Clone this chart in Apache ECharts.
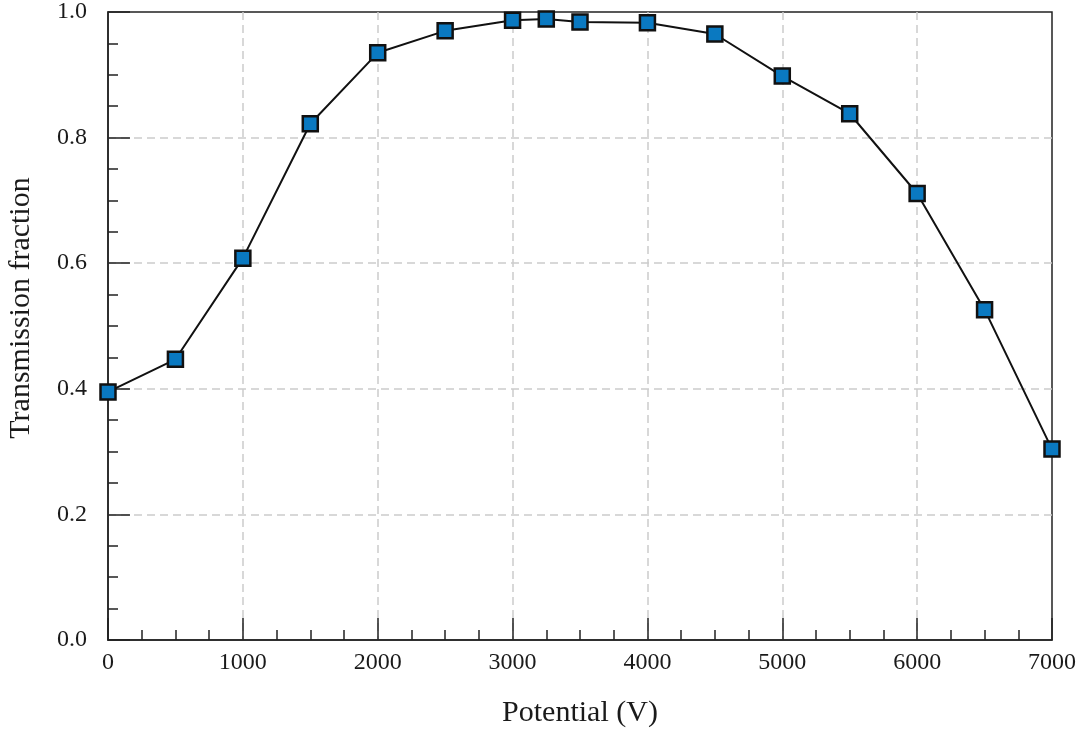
<!DOCTYPE html>
<html>
<head>
<meta charset="utf-8">
<script src="https://cdn.jsdelivr.net/npm/echarts@6/dist/echarts.min.js"></script>
<style>
  html, body { margin: 0; padding: 0; background: #fff; }
  #chart { width: 1083px; height: 729px; }
</style>
</head>
<body>
<div id="chart"></div>
<script>
// potential in volts, transmission fraction
const potentials = [0, 500, 1000, 1500, 2000, 2500, 3000, 3250, 3500, 4000, 4500, 5000, 5500, 6000, 6500, 7000]
const transmission = [0.395, 0.447, 0.608, 0.822, 0.935, 0.970, 0.987, 0.989, 0.984, 0.983, 0.965, 0.898, 0.838, 0.711, 0.526, 0.304]

const points = potentials.map((v, i) => [v, transmission[i]])

const chart = echarts.init(document.getElementById('chart'), null, { renderer: 'canvas' })

const serif = '"Liberation Serif", "DejaVu Serif", serif'

const option = {
    animation: false,
    backgroundColor: '#fff',
    grid: {
        left: 108, right: 31, top: 12, bottom: 89,
        outerBoundsMode: 'none',
        show: true, borderColor: '#222', borderWidth: 1.5
    },
    xAxis: {
        type: 'value',
        min: 0, max: 7000, interval: 1000,
        name: 'Potential (V)',
        nameLocation: 'middle',
        nameGap: 58,
        nameTextStyle: { fontFamily: serif, fontSize: 30, color: '#1a1a1a' },
        axisLine: { show: true, lineStyle: { color: '#222', width: 1.5 } },
        axisTick: { show: true, inside: true, length: 22, lineStyle: { color: '#222', width: 1.5 } },
        minorTick: { show: true, splitNumber: 4, length: 10, lineStyle: { color: '#222', width: 1.5 } },
        axisLabel: { fontFamily: serif, fontSize: 24, color: '#1a1a1a', margin: 11, formatter: v => String(v) },
        splitLine: {
            show: true, showMinLine: false, showMaxLine: false,
            lineStyle: { color: '#ccc', type: [8, 5], width: 1.5 }
        }
    },
    yAxis: {
        type: 'value',
        min: 0, max: 1, interval: 0.2,
        name: 'Transmission fraction',
        nameLocation: 'middle',
        nameGap: 72,
        nameTextStyle: { fontFamily: serif, fontSize: 30, color: '#1a1a1a', padding: [0, 0, 0, 36] },
        axisLine: { show: true, lineStyle: { color: '#222', width: 1.5 } },
        axisTick: { show: true, inside: true, length: 22, lineStyle: { color: '#222', width: 1.5 } },
        minorTick: { show: true, splitNumber: 4, length: 10, lineStyle: { color: '#222', width: 1.5 } },
        axisLabel: { fontFamily: serif, fontSize: 24, color: '#1a1a1a', margin: 21, formatter: v => v.toFixed(1) },
        splitLine: {
            show: true, showMinLine: false, showMaxLine: false,
            lineStyle: { color: '#ccc', type: [8, 5], width: 1.5 }
        }
    },
    series: [
        {
            type: 'line',
            data: points,
            symbol: 'rect',
            symbolSize: 15,
            lineStyle: { color: '#111', width: 2 },
            itemStyle: { color: '#0a79c1', borderColor: '#111', borderWidth: 2.5 },
            z: 5
        }
    ]
}

chart.setOption(option)
</script>
</body>
</html>
